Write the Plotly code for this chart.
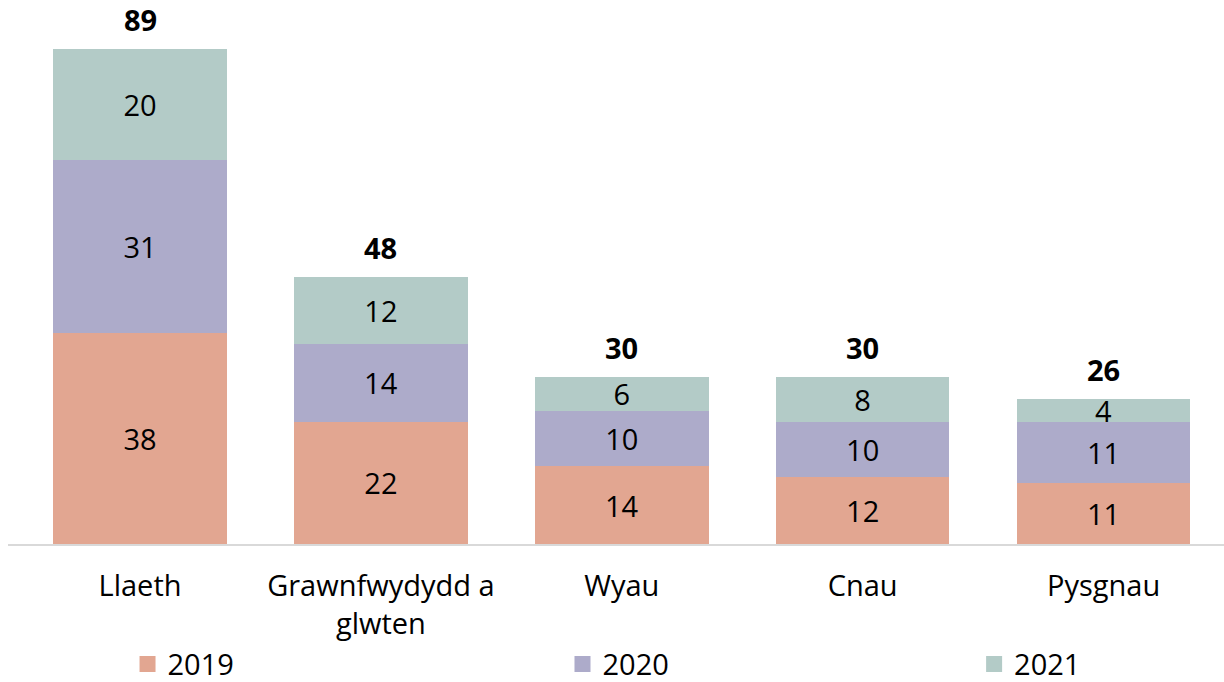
import plotly.graph_objects as go

categories = ["Llaeth", "Grawnfwydydd a<br>glwten", "Wyau", "Cnau", "Pysgnau"]
years = ["2019", "2020", "2021"]
values_2019 = [38, 22, 14, 12, 11]
values_2020 = [31, 14, 10, 10, 11]
values_2021 = [20, 12, 6, 8, 4]
totals = [89, 48, 30, 30, 26]

colors = {"2019": "#E2A691", "2020": "#ADABCA", "2021": "#B3CBC7"}
FONT = "Open Sans, Noto Sans, sans-serif"
FS = 29

series = {"2019": values_2019, "2020": values_2020, "2021": values_2021}

fig = go.Figure()
for yr in years:
    fig.add_trace(go.Bar(
        x=list(range(len(categories))),
        y=series[yr],
        name=yr,
        marker=dict(color=colors[yr], line=dict(width=0)),
        text=[str(v) for v in series[yr]],
        textposition="inside",
        insidetextanchor="middle",
        textangle=0,
        constraintext="none",
        textfont=dict(family=FONT, size=FS, color="#000000"),
        showlegend=False,
        hoverinfo="skip",
    ))

# legend entries with larger square swatches, one legend per year
legend_ids = ["legend", "legend2", "legend3"]
for yr, lg in zip(years, legend_ids):
    fig.add_trace(go.Scatter(
        x=[None], y=[None], mode="markers", name=yr,
        marker=dict(symbol="square", size=20, color=colors[yr]),
        legend=lg, showlegend=True,
    ))

# totals above each stack
for i, t in enumerate(totals):
    fig.add_annotation(
        x=i, y=t, text=f"<b>{t}</b>", showarrow=False,
        yanchor="bottom", yshift=8,
        font=dict(family=FONT, size=FS, color="#000000"),
    )

legend_common = dict(
    orientation="h", yref="container", yanchor="middle", y=0.026, xanchor="left",
    font=dict(family=FONT, size=FS, color="#000000"),
    bgcolor="rgba(0,0,0,0)", itemsizing="trace",
)

fig.update_layout(
    width=1224, height=682,
    margin=dict(l=8, r=0, t=0, b=138, autoexpand=False),
    barmode="stack", bargap=0.28,
    plot_bgcolor="white", paper_bgcolor="white",
    uniformtext=dict(minsize=FS, mode="show"),
    font=dict(family=FONT, size=FS, color="#000000"),
    xaxis=dict(
        tickmode="array", tickvals=list(range(len(categories))), ticktext=categories,
        range=[-0.548, 4.5], showline=True, linecolor="#D9D9D9", linewidth=2,
        showgrid=False, zeroline=False, ticks="", ticklabelstandoff=15,
        tickfont=dict(family=FONT, size=FS, color="#000000"),
    ),
    yaxis=dict(range=[0, 97.8], visible=False, showgrid=False, zeroline=False),
    legend=dict(legend_common, x=0.0983),
    legend2=dict(legend_common, x=0.456),
    legend3=dict(legend_common, x=0.7945),
)

fig.write_html("out.html")
